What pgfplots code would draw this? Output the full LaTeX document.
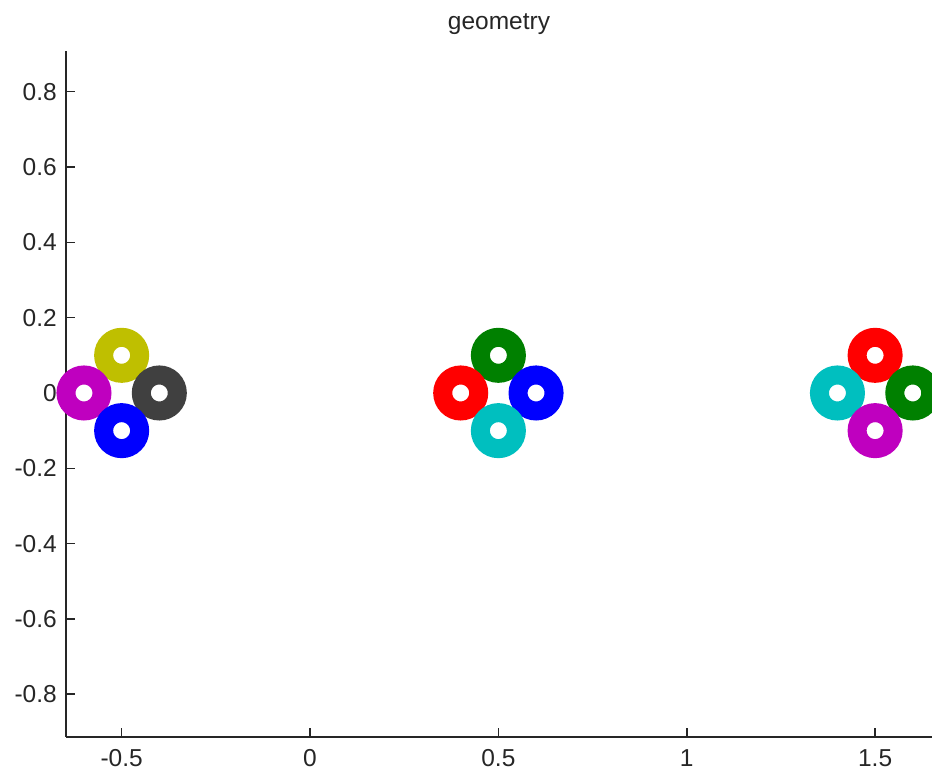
\documentclass[border=0pt]{standalone}
\usepackage{pgfplots}
\pgfplotsset{compat=1.18}
\usepackage{fontspec}
\setmainfont{Liberation Sans}

\definecolor{cOlive}{rgb}{0.75,0.75,0}
\definecolor{cMagenta}{rgb}{0.75,0,0.75}
\definecolor{cGray}{rgb}{0.25,0.25,0.25}
\definecolor{cBlue}{rgb}{0,0,1}
\definecolor{cGreen}{rgb}{0,0.5,0}
\definecolor{cRed}{rgb}{1,0,0}
\definecolor{cCyan}{rgb}{0,0.75,0.75}

\pgfplotsset{
  ring/.style={only marks, mark=o, mark size=18pt,
    mark options={draw=#1, line width=19pt}},
}

\begin{document}
\begin{tikzpicture}
\useasboundingbox (0,0) rectangle (932pt,773pt);
\begin{axis}[
  at={(66pt,36pt)}, anchor=south west,
  scale only axis, width=866pt, height=686pt,
  xmin=-0.6477, xmax=1.651, ymin=-0.9134, ymax=0.908,
  axis lines=left,
  axis line style={-, line width=1.6pt, black!85},
  tick align=inside, major tick length=9pt,
  tick style={line width=1.6pt, black!85},
  xtick={-0.5,0,0.5,1,1.5},
  xticklabels={-0.5,0,0.5,1,1.5},
  ytick={-0.8,-0.6,-0.4,-0.2,0,0.2,0.4,0.6,0.8},
  yticklabels={-0.8,-0.6,-0.4,-0.2,0,0.2,0.4,0.6,0.8},
  ticklabel style={font=\fontsize{24.5}{28}\selectfont, text=black!85, inner sep=0pt},
  xticklabel style={anchor=base, yshift=-30pt},
  yticklabel style={anchor=east, xshift=-9pt},
  title={geometry},
  title style={font=\fontsize{24.5}{28}\selectfont, text=black!85,
    at={(0.5,1)}, anchor=base, yshift=15pt, inner sep=0pt},
  clip=false,
]
% left group
\addplot[ring=cOlive]   coordinates {(-0.5,0.1)};
\addplot[ring=cMagenta] coordinates {(-0.6,0)};
\addplot[ring=cGray]    coordinates {(-0.4,0)};
\addplot[ring=cBlue]    coordinates {(-0.5,-0.1)};
% middle group
\addplot[ring=cGreen]   coordinates {(0.5,0.1)};
\addplot[ring=cRed]     coordinates {(0.4,0)};
\addplot[ring=cBlue]    coordinates {(0.6,0)};
\addplot[ring=cCyan]    coordinates {(0.5,-0.1)};
% right group
\addplot[ring=cRed]     coordinates {(1.5,0.1)};
\addplot[ring=cCyan]    coordinates {(1.4,0)};
\addplot[ring=cGreen]   coordinates {(1.6,0)};
\addplot[ring=cMagenta] coordinates {(1.5,-0.1)};
\end{axis}
\end{tikzpicture}
\end{document}
